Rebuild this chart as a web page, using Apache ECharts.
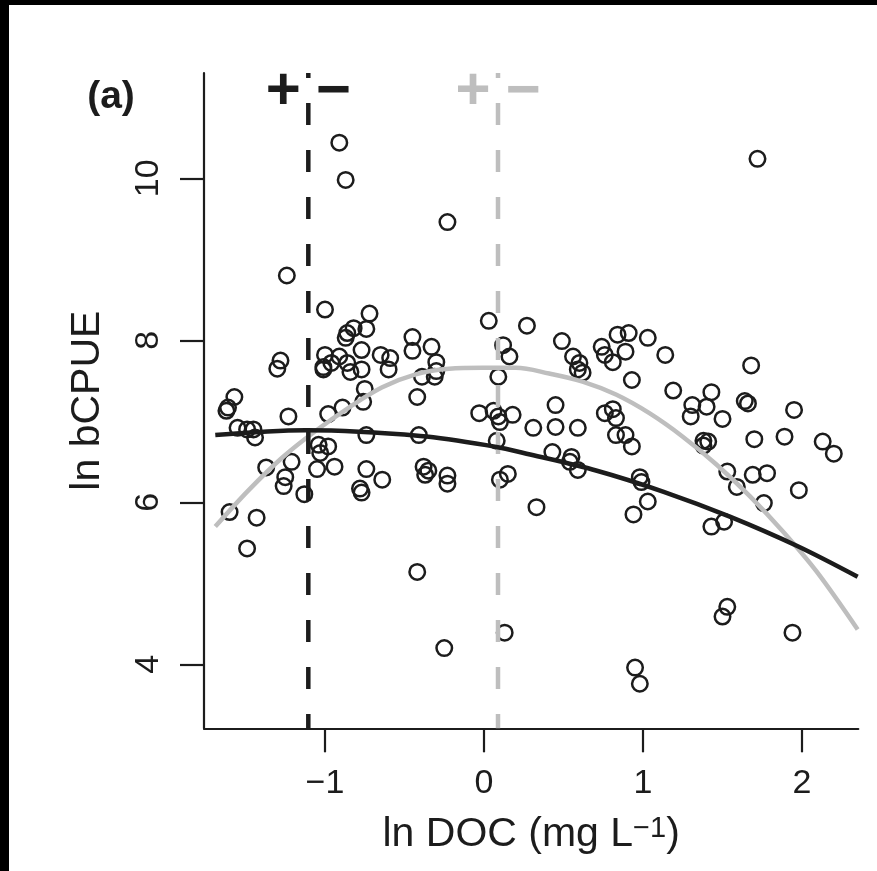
<!DOCTYPE html>
<html>
<head>
<meta charset="utf-8">
<script src="https://cdn.jsdelivr.net/npm/echarts@6/dist/echarts.min.js"></script>
<style>
  html, body { margin: 0; padding: 0; background: #ffffff; }
  #chart { width: 877px; height: 871px; }
</style>
</head>
<body>
<div id="chart"></div>
<script>
// ---- data ----
const lnDOC = [
  -0.91, -0.87, -0.23, -1.24, 1.72,
  -1.00, -0.72, 0.03, 0.27, -0.82,
  -0.86, -0.74, -0.87, -0.45, 0.12,
  -0.33, -1.00, -0.77, -0.65, -0.45,
  0.16, -1.28, -1.30, -0.59, -0.91,
  -0.86, -0.96, -1.01, -1.01, -0.84,
  -0.77, -0.60, -0.30, -0.30, -0.31,
  -0.39, 0.09, -0.75, -0.76, -0.42,
  -1.57, -1.61, -1.62, -1.23, -0.98,
  -0.89, -1.55, -1.49, -1.45, -1.44,
  -0.74, -0.41, -0.03, 0.06, 0.09,
  0.10, 0.18, 0.31, 0.08, -1.04,
  -0.98, -1.03, -1.37, -1.21, -1.25,
  -1.26, -1.05, -0.94, -0.74, -0.64,
  -0.38, -0.35, -0.37, -0.23, -0.23,
  -0.78, -0.77, -1.13, 0.10, 0.15,
  -1.60, -1.43, -1.49, -0.42,
  -0.25, 0.13, 0.49, 0.56, 0.60,
  0.59, 0.62, 0.74, 0.76, 0.81,
  0.84, 0.91, 0.89, 1.03, 1.14,
  0.93, 1.68, 1.19, 1.31, 1.30,
  1.43, 1.40, 1.50, 1.64, 1.66,
  1.95, 0.45, 0.45, 0.59, 0.76,
  0.81, 0.83, 0.83, 0.89, 0.93,
  1.38, 1.41, 1.38, 1.70, 1.89,
  2.13, 2.20, 0.43, 0.55, 0.54,
  0.59, 0.98, 0.99, 0.33, 1.03,
  0.94, 1.53, 1.59, 1.69, 1.78,
  1.76, 1.98, 1.43, 1.51, 1.53,
  1.50, 1.94, 0.95, 0.98
];
const lnBCPUE = [
  10.44, 9.98, 9.46, 8.80, 10.24,
  8.38, 8.33, 8.24, 8.18, 8.15,
  8.09, 8.14, 8.03, 8.04, 7.94,
  7.92, 7.82, 7.88, 7.82, 7.87,
  7.80, 7.75, 7.65, 7.78, 7.80,
  7.72, 7.72, 7.67, 7.64, 7.61,
  7.64, 7.64, 7.73, 7.62, 7.55,
  7.55, 7.55, 7.40, 7.24, 7.30,
  7.30, 7.17, 7.13, 7.06, 7.09,
  7.17, 6.92, 6.90, 6.90, 6.80,
  6.83, 6.83, 7.10, 7.13, 7.06,
  6.99, 7.08, 6.92, 6.76, 6.71,
  6.69, 6.61, 6.43, 6.50, 6.31,
  6.20, 6.41, 6.44, 6.41, 6.28,
  6.44, 6.39, 6.34, 6.33, 6.23,
  6.17, 6.12, 6.10, 6.28, 6.35,
  5.88, 5.81, 5.43, 5.14,
  4.20, 4.39, 7.99, 7.80, 7.72,
  7.64, 7.60, 7.92, 7.82, 7.73,
  8.07, 8.09, 7.86, 8.03, 7.82,
  7.51, 7.69, 7.38, 7.20, 7.06,
  7.36, 7.18, 7.03, 7.25, 7.22,
  7.14, 7.20, 6.93, 6.92, 7.10,
  7.15, 7.04, 6.83, 6.83, 6.69,
  6.76, 6.75, 6.70, 6.78, 6.81,
  6.75, 6.60, 6.62, 6.56, 6.50,
  6.40, 6.31, 6.25, 5.94, 6.01,
  5.85, 6.38, 6.19, 6.34, 6.36,
  5.99, 6.15, 5.70, 5.76, 4.71,
  4.59, 4.39, 3.96, 3.76
];
const blackCurveX = [-1.69, -1.12, -0.40, 0.06, 0.29, 0.71, 1.13, 1.55, 1.97, 2.35];
const blackCurveY = [6.83, 6.89, 6.82, 6.69, 6.59, 6.39, 6.13, 5.82, 5.46, 5.08];
const greyCurveX = [-1.69, -1.48, -1.27, -1.06, -0.85, -0.64, -0.43, -0.22, -0.01, 0.20, 0.41, 0.62, 0.83, 1.04, 1.25, 1.46, 1.67, 1.88, 2.09, 2.35];
const greyCurveY = [5.70, 6.15, 6.55, 6.88, 7.17, 7.42, 7.58, 7.65, 7.66, 7.66, 7.59, 7.49, 7.33, 7.10, 6.81, 6.47, 6.08, 5.64, 5.15, 4.43];
const blackVertexX = -1.105;
const greyVertexX = 0.088;
const xTicks = [-1, 0, 1, 2];
const yTicks = [4, 6, 8, 10];
const xRange = [-1.761, 2.354];
const yRange = [3.21, 11.30];
// ---- end data ----

const INK = '#1c1c1c';
const GREY = '#bebebe';
const FONT = '"Liberation Sans", Arial, Helvetica, sans-serif';

const pts = lnDOC.map((x, i) => [x, lnBCPUE[i]]);
const blackCurve = blackCurveX.map((x, i) => [x, blackCurveY[i]]);
const greyCurve = greyCurveX.map((x, i) => [x, greyCurveY[i]]);

const chart = echarts.init(document.getElementById('chart'), null, { renderer: 'canvas' });

function vline(x) { return [[x, yRange[1]], [x, yRange[0]]]; }

chart.setOption({
  animation: false,
  backgroundColor: '#ffffff',
  grid: { left: 204, top: 73, right: 18.7, bottom: 142.7, containLabel: false, outerBoundsMode: 'none' },
  xAxis: {
    type: 'value', min: xRange[0], max: xRange[1],
    splitLine: { show: false },
    axisLine: { show: true, onZero: false, lineStyle: { color: INK, width: 2.2 } },
    axisTick: { show: true, length: 24, customValues: xTicks, lineStyle: { color: INK, width: 2.2 } },
    axisLabel: {
      customValues: xTicks, margin: 38, fontSize: 34, fontFamily: FONT, color: INK,
      formatter: v => String(v).replace('-', '\u2212')
    },
    name: 'ln DOC (mg L{sup|\u22121})',
    nameLocation: 'middle', nameGap: 86, nameMoveOverlap: false,
    nameTextStyle: {
      fontSize: 41, fontFamily: FONT, color: INK,
      rich: { sup: { fontSize: 29, fontFamily: FONT, color: INK, verticalAlign: 'top' } }
    }
  },
  yAxis: {
    type: 'value', min: yRange[0], max: yRange[1],
    splitLine: { show: false },
    axisLine: { show: true, onZero: false, lineStyle: { color: INK, width: 2.2 } },
    axisTick: { show: true, length: 24, customValues: yTicks, lineStyle: { color: INK, width: 2.2 } },
    axisLabel: { customValues: yTicks, rotate: 90, margin: 38, fontSize: 34, fontFamily: FONT, color: INK },
    name: 'ln bCPUE', nameLocation: 'middle', nameRotate: 90, nameGap: 96, nameMoveOverlap: false,
    nameTextStyle: { fontSize: 41, fontFamily: FONT, color: INK }
  },
  series: [
    {
      type: 'scatter', data: pts, symbol: 'circle', symbolSize: 15.5, z: 2,
      itemStyle: { color: 'rgba(0,0,0,0)', borderColor: INK, borderWidth: 2.5, opacity: 1 },
      emphasis: { disabled: true }
    },
    {
      type: 'line', data: vline(greyVertexX), showSymbol: false, z: 3,
      lineStyle: { color: GREY, width: 4.5, type: [22, 25], dashOffset: 17, cap: 'butt' }
    },
    {
      type: 'line', data: greyCurve, smooth: 0.35, showSymbol: false, z: 3,
      lineStyle: { color: GREY, width: 4.5 }
    },
    {
      type: 'line', data: vline(blackVertexX), showSymbol: false, z: 4,
      lineStyle: { color: INK, width: 4.5, type: [22, 25], dashOffset: 17, cap: 'butt' }
    },
    {
      type: 'line', data: blackCurve, smooth: 0.35, showSymbol: false, z: 4,
      lineStyle: { color: INK, width: 4.5 }
    }
  ]
});

const bx = chart.convertToPixel({ xAxisIndex: 0 }, blackVertexX);
const gx = chart.convertToPixel({ xAxisIndex: 0 }, greyVertexX);
const signStyle = (txt, col) => ({ text: txt, fontSize: 60, fontWeight: 'bold', fontFamily: FONT, fill: col, align: 'center', verticalAlign: 'middle' });

chart.setOption({
  graphic: [
    { type: 'rect', silent: true, shape: { x: 0, y: 0, width: 877, height: 5 }, style: { fill: '#000' } },
    { type: 'rect', silent: true, shape: { x: 0, y: 0, width: 9, height: 871 }, style: { fill: '#000' } },
    { type: 'text', silent: true, x: 111, y: 97, style: { text: '(a)', fontSize: 39, fontWeight: 'bold', fontFamily: FONT, fill: INK, align: 'center', verticalAlign: 'middle' } },
    { type: 'text', silent: true, x: bx - 25, y: 92, style: signStyle('+', INK) },
    { type: 'text', silent: true, x: bx + 25, y: 92, style: signStyle('\u2212', INK) },
    { type: 'text', silent: true, x: gx - 25, y: 92, style: signStyle('+', GREY) },
    { type: 'text', silent: true, x: gx + 25, y: 92, style: signStyle('\u2212', GREY) }
  ]
});
</script>
</body>
</html>
